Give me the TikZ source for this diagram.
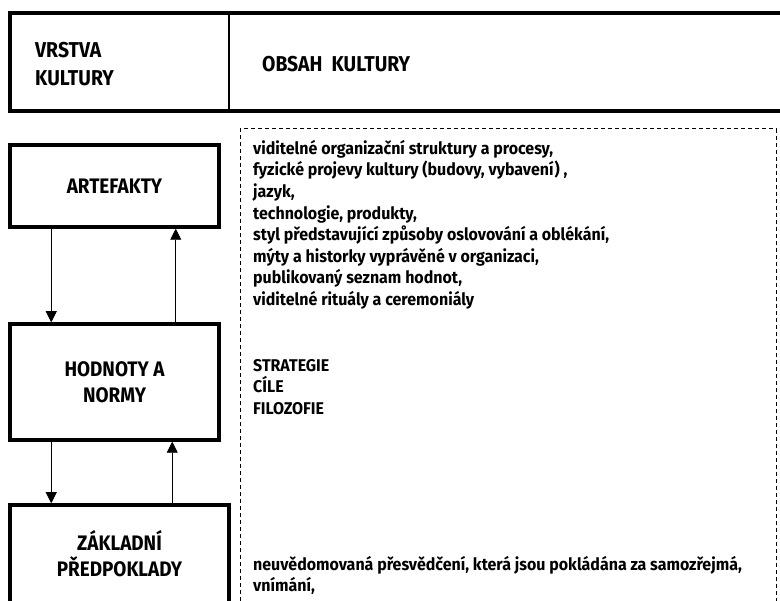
\documentclass[tikz,border=0pt]{standalone}
\usepackage{fontspec}
\setmainfont{Fira Sans}
\newfontfamily\condfont{Fira Sans}[FakeStretch=0.9]
\newfontfamily\bodyfont{Fira Sans}[FakeStretch=0.94]
\usepackage{tikz}
\usetikzlibrary{arrows.meta}
\usetikzlibrary{positioning}
\usetikzlibrary{calc}

\tikzset{
  layerbox/.style={draw,line width=3.5pt,rectangle,inner sep=0pt,align=center,
    font=\condfont\fontsize{21}{26}\selectfont\bfseries},
  flow/.style={line width=0.9pt,-{Triangle[length=11pt,width=11pt]}},
  content/.style={anchor=north west,align=left,inner sep=0pt,
    font=\bodyfont\fontsize{17}{21.6}\selectfont\bfseries},
  headtxt/.style={anchor=west,align=left,inner sep=0pt,
    font=\condfont\fontsize{21.5}{28}\selectfont\bfseries}
}

\begin{document}
\begin{tikzpicture}[x=1pt,y=-1pt]
\clip (0,0) rectangle (780,601);
\fill[white] (0,0) rectangle (780,601);

% header
\draw[line width=3.5pt] (8,13) -- (780,13);
\draw[line width=3.5pt] (8,111) -- (780,111);
\draw[line width=3.5pt] (10,11.3) -- (10,112.7);
\draw[line width=2pt] (229,13) -- (229,111);
\node[headtxt] (vrstva) at (35,64) {VRSTVA\\KULTURY};
\node[headtxt] (obsah) at (262,64) {OBSAH\ \ KULTURY};

% dashed box
\draw[line width=1pt,dash pattern=on 4pt off 3pt] (240,650) -- (240,129) -- (776,129) -- (776,650);

% layers
\node[layerbox,minimum width=209pt,minimum height=82pt] (art) at (114.5,186) {ARTEFAKTY};
\node[layerbox,minimum width=209pt,minimum height=116pt] (hod) at (114.5,382) {HODNOTY A\\NORMY};
\node[layerbox,minimum width=219pt,minimum height=160pt] (zak) at (119.5,585) {};
\node[layerbox,draw=none,anchor=north] (zaktxt) at ([yshift=-25pt]zak.north) {ZÁKLADNÍ\\PŘEDPOKLADY};

% arrows
\draw[flow] ([xshift=43pt]art.south west) -- ([xshift=43pt]hod.north west);
\draw[flow] ([xshift=-45pt]hod.north east) -- ([xshift=-45pt]art.south east);
\draw[flow] ([xshift=43pt]hod.south west) -- ([xshift=43pt]zak.north west);
\draw[flow] ([xshift=164pt]zak.north west) -- ([xshift=164pt]hod.south west);

% contents
\node[content] (obsart) at (253,140) {viditelné organizační struktury a procesy,\\
fyzické projevy kultury (budovy, vybavení) ,\\
jazyk,\\
technologie, produkty,\\
styl představující způsoby oslovování a oblékání,\\
mýty a historky vyprávěné v organizaci,\\
publikovaný seznam hodnot,\\
viditelné rituály a ceremoniály};
\node[content] (obshod) at (253,359) {STRATEGIE\\CÍLE\\FILOZOFIE};
\node[content] (obszak) at (253,556) {neuvědomovaná přesvědčení, která jsou pokládána za samozřejmá,\\vnímání,};
\end{tikzpicture}
\end{document}
